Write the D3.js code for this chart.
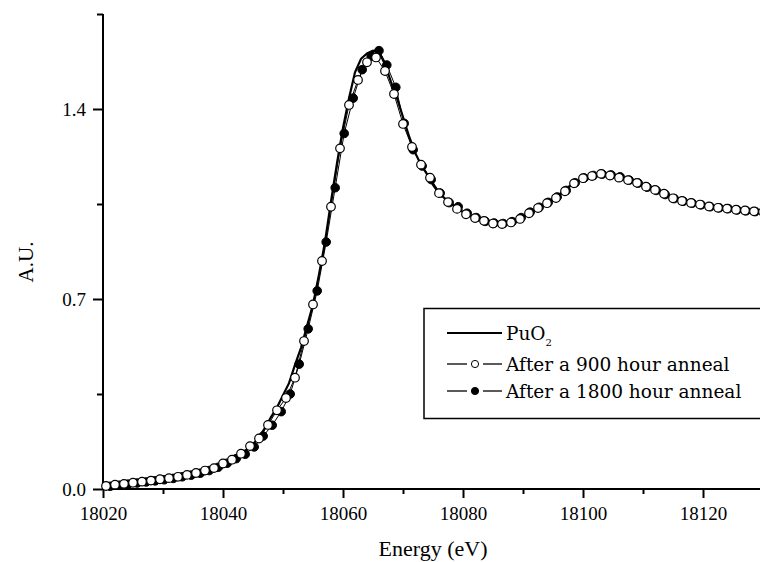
<!DOCTYPE html>
<html>
<head>
<meta charset="utf-8">
<script src="https://cdn.jsdelivr.net/npm/d3@7"></script>
<style>
  body { margin: 0; background: #fff; }
  svg { display: block; }
</style>
</head>
<body>
<div id="chart"></div>
<script>
// PuO2 reference (solid line)
var puo2E = [18020, 18022, 18024, 18026, 18028, 18030, 18032, 18034, 18036, 18038,
             18040, 18042, 18044, 18045, 18046, 18047, 18048, 18049, 18050, 18051,
             18052, 18053, 18054, 18055, 18056, 18057, 18058, 18059, 18060, 18061,
             18062, 18063, 18064, 18065, 18066, 18067, 18068, 18069, 18070, 18071,
             18072, 18073, 18074, 18075, 18076, 18078, 18080, 18082, 18084, 18086,
             18088, 18090, 18092, 18094, 18096, 18098, 18100, 18102, 18104, 18106,
             18108, 18110, 18112, 18114, 18116, 18118, 18120, 18122, 18124, 18126,
             18128, 18130];
var puo2Y = [0.010, 0.014, 0.019, 0.024, 0.030, 0.036, 0.043, 0.051, 0.062, 0.075,
             0.091, 0.113, 0.145, 0.165, 0.190, 0.225, 0.265, 0.300, 0.345, 0.390,
             0.457, 0.520, 0.600, 0.680, 0.790, 0.910, 1.060, 1.200, 1.330, 1.440,
             1.535, 1.585, 1.605, 1.615, 1.610, 1.565, 1.500, 1.440, 1.370, 1.300,
             1.240, 1.195, 1.160, 1.120, 1.090, 1.050, 1.020, 1.000, 0.985, 0.978,
             0.984, 1.003, 1.030, 1.055, 1.085, 1.120, 1.145, 1.157, 1.160, 1.148,
             1.135, 1.120, 1.100, 1.080, 1.063, 1.054, 1.046, 1.039, 1.033, 1.028,
             1.024, 1.020];

// after a 900 hour anneal (open circles)
var a900E = [18020.5, 18022.0, 18023.5, 18025.0, 18026.5, 18028.0, 18029.5, 18031.0, 18032.5, 18034.0,
             18035.5, 18037.0, 18038.5, 18040.0, 18041.5, 18043.0, 18044.5, 18046.0, 18047.5, 18049.0,
             18050.5, 18052.0, 18053.5, 18055.0, 18056.5, 18058.0, 18059.5, 18061.0, 18062.5, 18064.0,
             18065.5, 18067.0, 18068.5, 18070.0, 18071.5, 18073.0, 18074.5, 18076.0, 18077.5, 18079.0,
             18080.5, 18082.0, 18083.5, 18085.0, 18086.5, 18088.0, 18089.5, 18091.0, 18092.5, 18094.0,
             18095.5, 18097.0, 18098.5, 18100.0, 18101.5, 18103.0, 18104.5, 18106.0, 18107.5, 18109.0,
             18110.5, 18112.0, 18113.5, 18115.0, 18116.5, 18118.0, 18119.5, 18121.0, 18122.5, 18124.0,
             18125.5, 18127.0, 18128.5, 18130.0];
var a900Y = [0.011, 0.016, 0.019, 0.023, 0.027, 0.031, 0.036, 0.040, 0.045, 0.052,
             0.059, 0.068, 0.077, 0.094, 0.108, 0.130, 0.158, 0.186, 0.236, 0.290,
             0.335, 0.410, 0.545, 0.680, 0.840, 1.040, 1.255, 1.415, 1.507, 1.572,
             1.590, 1.540, 1.455, 1.345, 1.260, 1.195, 1.147, 1.090, 1.057, 1.032,
             1.012, 0.998, 0.988, 0.978, 0.976, 0.982, 0.995, 1.016, 1.035, 1.053,
             1.072, 1.097, 1.126, 1.145, 1.153, 1.161, 1.155, 1.147, 1.138, 1.128,
             1.114, 1.102, 1.088, 1.071, 1.061, 1.054, 1.048, 1.041, 1.036, 1.033,
             1.029, 1.026, 1.023, 1.021];

// after a 1800 hour anneal (filled circles)
var a1800E = [18021.2, 18022.7, 18024.2, 18025.7, 18027.2, 18028.7, 18030.2, 18031.7, 18033.2, 18034.7,
              18036.2, 18037.7, 18039.2, 18040.7, 18042.2, 18043.7, 18045.2, 18046.7, 18048.2, 18049.7,
              18051.2, 18052.7, 18054.2, 18055.7, 18057.2, 18058.7, 18060.2, 18061.7, 18063.2, 18064.7,
              18066.0, 18067.3, 18068.8, 18070.2, 18071.7, 18073.2, 18074.7, 18076.2, 18077.7, 18079.2,
              18080.7, 18082.2, 18083.7, 18085.2, 18086.7, 18088.2, 18089.7, 18091.2, 18092.7, 18094.2,
              18095.7, 18097.2, 18098.7, 18100.2, 18101.7, 18103.2, 18104.7, 18106.2, 18107.7, 18109.2,
              18110.7, 18112.2, 18113.7, 18115.2, 18116.7, 18118.2, 18119.7, 18121.2, 18122.7, 18124.2,
              18125.7, 18127.2, 18128.7];
var a1800Y = [0.010, 0.014, 0.018, 0.022, 0.026, 0.030, 0.034, 0.039, 0.045, 0.051,
              0.058, 0.068, 0.080, 0.095, 0.112, 0.128, 0.155, 0.195, 0.235, 0.285,
              0.350, 0.460, 0.590, 0.730, 0.910, 1.110, 1.310, 1.440, 1.545, 1.595,
              1.615, 1.562, 1.480, 1.347, 1.250, 1.190, 1.140, 1.090, 1.055, 1.040,
              1.016, 1.000, 0.986, 0.980, 0.978, 0.985, 1.000, 1.020, 1.038, 1.056,
              1.076, 1.100, 1.128, 1.146, 1.155, 1.160, 1.157, 1.150, 1.138, 1.127,
              1.112, 1.100, 1.085, 1.070, 1.060, 1.053, 1.047, 1.040, 1.036, 1.033,
              1.028, 1.025, 1.022];

var xTicks = [18020, 18040, 18060, 18080, 18100, 18120];
var xMinorTicks = [18030, 18050, 18070, 18090, 18110, 18130];
var yTicks = [0.0, 0.7, 1.4];
var yMinorTicks = [0.35, 1.05, 1.75];
var legendLabels = ["PuO", "After a 900 hour anneal", "After a 1800 hour anneal"];

var width = 760, height = 562;
var plotLeft = 103, plotBottom = 489, plotTop = 14;

var svg = d3.select("#chart")
            .append("svg")
            .attr("width", width)
            .attr("height", height);

var x = d3.scaleLinear().domain([18020, 18130]).range([plotLeft, plotLeft + 660]);
var y = d3.scaleLinear().domain([0, 1.75]).range([plotBottom, plotTop]);

var tickFont = "'Liberation Serif', 'Times New Roman', serif";
var legFont = "'DejaVu Serif', serif";

// axes (major + minor ticks)
var xMinor = svg.append("g").attr("transform", "translate(0," + plotBottom + ")")
    .call(d3.axisBottom(x).tickValues(xMinorTicks).tickSize(5).tickFormat(""));
var xAxis = svg.append("g").attr("transform", "translate(0," + plotBottom + ")")
    .call(d3.axisBottom(x).tickValues(xTicks).tickSize(9).tickPadding(4).tickFormat(d3.format("d")));
var yMinor = svg.append("g").attr("transform", "translate(" + plotLeft + ",0)")
    .call(d3.axisLeft(y).tickValues(yMinorTicks).tickSize(6).tickFormat(""));
var yAxis = svg.append("g").attr("transform", "translate(" + plotLeft + ",0)")
    .call(d3.axisLeft(y).tickValues(yTicks).tickSize(10).tickPadding(7).tickFormat(d3.format(".1f")));

[xMinor, xAxis, yMinor, yAxis].forEach(function(a) {
  a.select(".domain").remove();
  a.selectAll("line").attr("stroke", "#000").attr("stroke-width", 2);
  a.selectAll("text").attr("fill", "#000").style("font-family", tickFont).style("font-size", "19px");
});
xAxis.selectAll("text").attr("dy", "0.95em");

svg.append("line").attr("x1", plotLeft).attr("x2", width).attr("y1", plotBottom).attr("y2", plotBottom)
   .attr("stroke", "#000").attr("stroke-width", 2);
svg.append("line").attr("x1", plotLeft).attr("x2", plotLeft).attr("y1", plotTop).attr("y2", plotBottom + 1)
   .attr("stroke", "#000").attr("stroke-width", 2);

// axis titles
svg.append("text").attr("x", 433).attr("y", 556).attr("text-anchor", "middle")
   .style("font-family", tickFont).style("font-size", "22px").text("Energy (eV)");
svg.append("text").attr("transform", "translate(33,262) rotate(-90)").attr("text-anchor", "middle")
   .style("font-family", tickFont).style("font-size", "21px").text("A.U.");

// curves
var plot = svg.append("g");
var line = d3.line().x(function(d) { return x(d[0]); }).y(function(d) { return y(d[1]); });

var puo2 = d3.zip(puo2E, puo2Y);
var s900 = d3.zip(a900E, a900Y);
var s1800 = d3.zip(a1800E, a1800Y);

plot.append("path").datum(puo2).attr("d", line)
    .attr("fill", "none").attr("stroke", "#000").attr("stroke-width", 2.2);

plot.append("path").datum(s1800).attr("d", line)
    .attr("fill", "none").attr("stroke", "#000").attr("stroke-width", 1);
plot.append("path").datum(s900).attr("d", line)
    .attr("fill", "none").attr("stroke", "#000").attr("stroke-width", 1);

plot.selectAll(".c1800").data(s1800).enter().append("circle")
    .attr("class", "c1800")
    .attr("cx", function(d) { return x(d[0]); })
    .attr("cy", function(d) { return y(d[1]); })
    .attr("r", 4.3)
    .attr("fill", "#000").attr("stroke", "#000").attr("stroke-width", 1);

plot.selectAll(".c900").data(s900).enter().append("circle")
    .attr("class", "c900")
    .attr("cx", function(d) { return x(d[0]); })
    .attr("cy", function(d) { return y(d[1]); })
    .attr("r", 4.3)
    .attr("fill", "#fff").attr("stroke", "#000").attr("stroke-width", 1.2);

// legend
var leg = svg.append("g");
leg.append("rect").attr("x", 424).attr("y", 308.5).attr("width", 345).attr("height", 110)
   .attr("fill", "#fff").attr("stroke", "#000").attr("stroke-width", 1.5);

var rowY = [333, 364, 391];
leg.append("line").attr("x1", 447).attr("x2", 502).attr("y1", rowY[0]).attr("y2", rowY[0])
   .attr("stroke", "#000").attr("stroke-width", 2.2);
[1, 2].forEach(function(i) {
  leg.append("line").attr("x1", 447).attr("x2", 467).attr("y1", rowY[i]).attr("y2", rowY[i])
     .attr("stroke", "#000").attr("stroke-width", 1.3);
  leg.append("line").attr("x1", 483).attr("x2", 502).attr("y1", rowY[i]).attr("y2", rowY[i])
     .attr("stroke", "#000").attr("stroke-width", 1.3);
  leg.append("circle").attr("cx", 475).attr("cy", rowY[i]).attr("r", 3.6)
     .attr("fill", i === 1 ? "#fff" : "#000").attr("stroke", "#000").attr("stroke-width", 1);
});

legendLabels.forEach(function(t, i) {
  var tx = leg.append("text").attr("x", 506).attr("y", rowY[i] + 7)
     .style("font-family", legFont).style("font-size", "18.5px").attr("fill", "#000").text(t);
  if (i === 0) {
    tx.append("tspan").attr("dy", 6).style("font-size", "10px").text("2");
  }
});
</script>
</body>
</html>
